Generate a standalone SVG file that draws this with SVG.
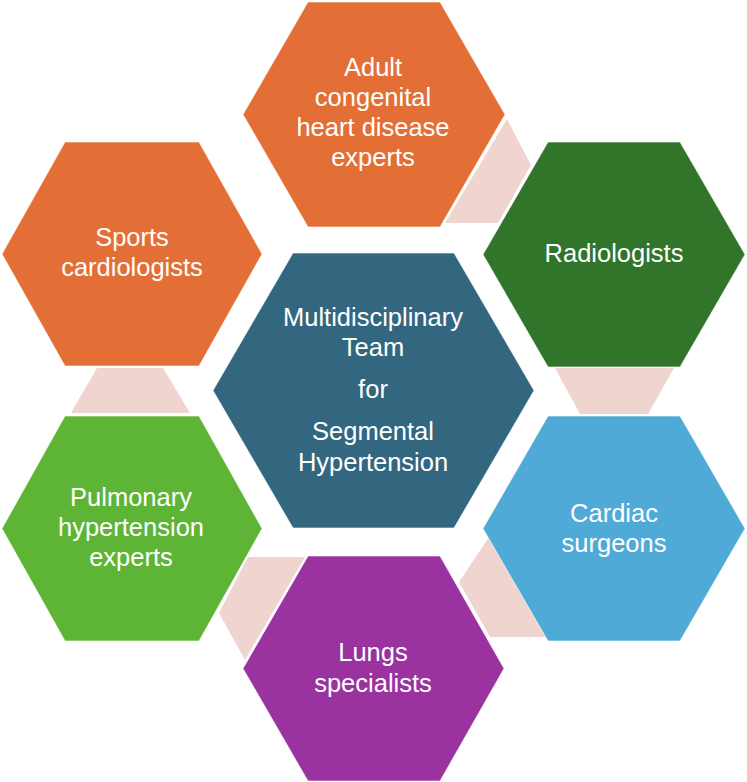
<svg xmlns="http://www.w3.org/2000/svg" width="747" height="782" viewBox="0 0 747 782">
<style>
.hex{stroke:#ffffff;stroke-width:1;stroke-opacity:0.6}
.pink{fill:#EFD4CF}
text{font-family:"Liberation Sans",Arial,sans-serif;font-size:25.5px;fill:#ffffff;text-anchor:middle}
</style>
<rect width="747" height="782" fill="#ffffff"/>
<g id="connectors">
<polygon class="pink" points="97,368 163,368 190,413 71,413"/>
<polygon class="pink" points="555,368 674,368 648,414 580,414"/>
<polygon class="pink" points="507,119 531,165 498,223 445,223"/>
<polygon class="pink" points="489,537 546,637 490,637 459,582"/>
<polygon class="pink" points="248,557 305,557 245,660 219,613"/>
</g>
<g id="adult">
<polygon class="hex" fill="#E46F36" points="308,2 440,2 505,114.5 440,227 308,227 243,114.5"/>
<text x="373" y="76">Adult</text>
<text x="373" y="106">congenital</text>
<text x="373" y="136">heart disease</text>
<text x="373" y="166">experts</text>
</g>
<g id="radiologists">
<polygon class="hex" fill="#31752B" points="548,142 680,142 745,254.5 680,367 548,367 483,254.5"/>
<text x="614" y="262">Radiologists</text>
</g>
<g id="sports">
<polygon class="hex" fill="#E46F36" points="65,142 199,142 262,254 199,366 65,366 2,254"/>
<text x="132" y="246">Sports</text>
<text x="132" y="276">cardiologists</text>
</g>
<g id="center">
<polygon class="hex" fill="#33677F" points="293,253 454,253 534,390.5 454,528 293,528 213,390.5"/>
<text x="373" y="326">Multidisciplinary</text>
<text x="373" y="356">Team</text>
<text x="373" y="398">for</text>
<text x="373" y="440">Segmental</text>
<text x="373" y="471">Hypertension</text>
</g>
<g id="pulmonary">
<polygon class="hex" fill="#5EB535" points="65,416 199,416 262,528.5 199,641 65,641 2,528.5"/>
<text x="131" y="506">Pulmonary</text>
<text x="131" y="536">hypertension</text>
<text x="131" y="566">experts</text>
</g>
<g id="cardiac">
<polygon class="hex" fill="#4FAAD8" points="548,416 680,416 745,528.5 680,641 548,641 483,528.5"/>
<text x="614" y="522">Cardiac</text>
<text x="614" y="552">surgeons</text>
</g>
<g id="lungs">
<polygon class="hex" fill="#9A329F" points="308,556 440,556 504,668.5 440,781 308,781 243,668.5"/>
<text x="373" y="661">Lungs</text>
<text x="373" y="692">specialists</text>
</g>
</svg>
